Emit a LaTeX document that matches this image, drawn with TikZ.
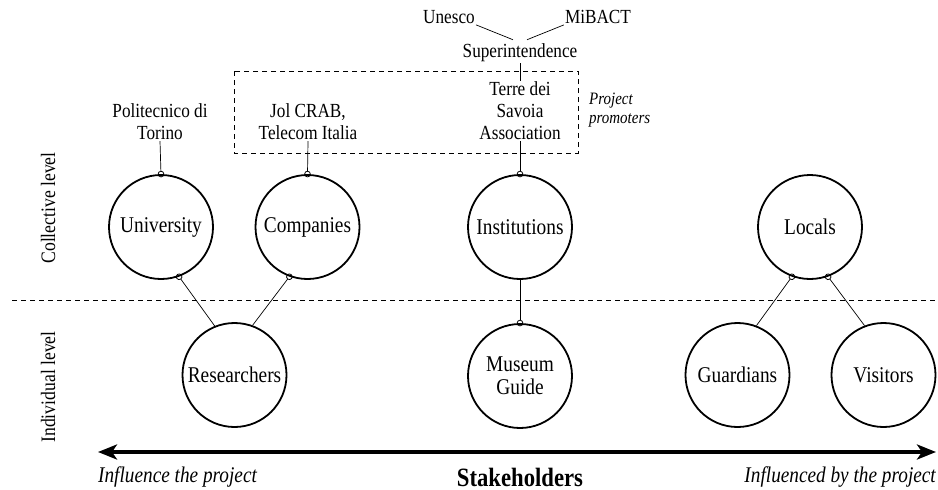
\documentclass[tikz,border=0pt]{standalone}
\usepackage{fontspec}
\setmainfont{Liberation Serif}[FakeStretch=0.86]
\usetikzlibrary{arrows.meta}
\begin{document}
\begin{tikzpicture}[x=1pt,y=-1pt,
  actor/.style={circle, draw, line width=1.8pt, minimum size=104pt, inner sep=0pt, align=center,
    font=\fontsize{22.5}{23}\selectfont},
  lbl/.style={inner sep=1pt, align=center, font=\fontsize{20}{22}\selectfont},
  conn/.style={line width=0.7pt, -{Circle[open,length=6.5pt,width=6.5pt,line width=0.8pt]}, shorten >=-3.2pt},
  plain/.style={line width=0.7pt},
  dashline/.style={line width=0.7pt, dash pattern=on 5pt off 4pt},
  lvl/.style={rotate=90, font=\fontsize{20.5}{22}\selectfont}
]
\useasboundingbox (0,0) rectangle (938,490);

% level separator
\coordinate (sepL) at (12,300);
\coordinate (sepR) at (938,300);
\draw[dashline] (sepL) -- (sepR);

% project promoters box
\coordinate (boxA) at (234,71);
\coordinate (boxB) at (578,153);
\draw[dashline] (boxA) rectangle (boxB);

% collective level
\node[actor] (uni)  at (161,227) {University};
\node[actor] (comp) at (307.5,227) {Companies};
\node[actor] (inst) at (520,227) {Institutions};
\node[actor] (loc)  at (810,227) {Locals};

% individual level
\node[actor] (res)   at (234.5,375) {Researchers};
\node[actor] (mus)   at (520,376) {Museum\\Guide};
\node[actor] (guard) at (737.5,375) {Guardians};
\node[actor] (vis)   at (883.5,375) {Visitors};

% labels
\node[lbl] (pol)   at (160,122) {Politecnico di\\Torino};
\node[lbl] (jol)   at (308,122) {Jol CRAB,\\Telecom Italia};
\node[lbl] (terre) at (520,111) {Terre dei\\Savoia\\Association};
\node[lbl] (sup)   at (520,53) {Superintendence};
\node[lbl] (une)   at (449,17) {Unesco};
\node[lbl] (mib)   at (598,17) {MiBACT};
\node[anchor=west, align=left, inner sep=0pt, font=\fontsize{17.4}{19}\itshape\selectfont] (prom) at (589,110.5) {Project\\promoters};

% connectors
\draw[plain] (une.south east) -- ([shift={(-7pt,3pt)}]sup.north);
\draw[plain] (mib.south west) -- ([shift={(7pt,3pt)}]sup.north);
\draw[plain] (sup.south) -- (terre.north);
\draw[conn] (terre.south) -- (inst.north);
\draw[conn] (pol.south) -- (uni.north);
\draw[conn] (jol.south) -- (comp.north);

\draw[conn] (res.112) -- (uni.-70);
\draw[conn] (res.70) -- (comp.-110);
\draw[conn] (inst.south) -- (mus.north);
\draw[conn] (guard.69) -- (loc.-110);
\draw[conn] (vis.111) -- (loc.-70);

% levels
\node[lvl] (coll) at (48,208) {Collective level};
\node[lvl] (indiv) at (48,387) {Individual level};

% stakeholder axis
\coordinate (axL) at (98,452);
\coordinate (axR) at (936,452);
\draw[line width=3.8pt, {Stealth[length=19pt,width=15pt,inset=5pt]}-{Stealth[length=19pt,width=15pt,inset=5pt]}] (axL) -- (axR);
\node[anchor=west, inner sep=0pt, font=\fontsize{22.4}{23}\itshape\selectfont] (infl) at (98,477) {Influence the project};
\node[inner sep=0pt, font=\fontsize{26.4}{28}\bfseries\selectfont] (stk) at (520,477) {Stakeholders};
\node[anchor=east, inner sep=0pt, font=\fontsize{22.4}{23}\itshape\selectfont] (infd) at (936,477) {Influenced by the project};
\end{tikzpicture}
\end{document}
